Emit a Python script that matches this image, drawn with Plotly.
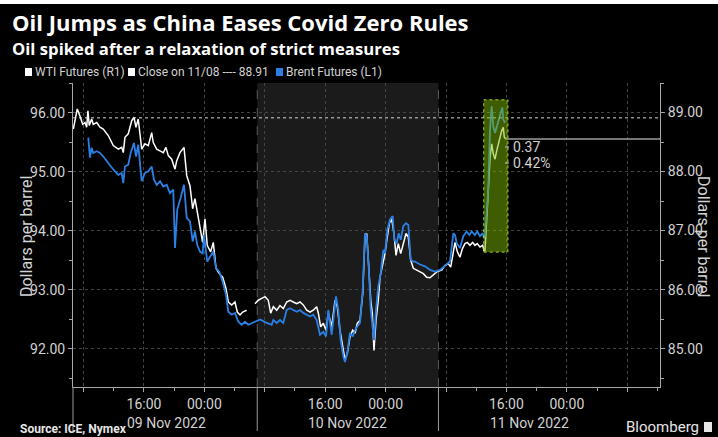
import plotly.graph_objects as go

# ---------------- data (hours since 09 Nov 2022 00:00, chart local time) ----------------
wti_hours = [6.64, 7.17, 7.52, 7.88, 8.19, 8.41, 8.58, 8.75, 9.07, 9.28, 9.74, 10.17, 10.61, 11.27,
             11.93, 12.60, 13.05, 13.26, 13.48, 13.92, 14.37, 14.67, 14.94, 15.24, 15.70, 16.13,
             16.57, 17.02, 17.23, 17.68, 18.12, 18.56, 18.91, 19.22, 19.67, 20.11, 20.33, 20.77,
             21.30, 21.66, 22.09, 22.45, 22.75, 23.06, 23.42, 23.77, 24.08, 24.38, 24.83, 25.18,
             25.54, 25.97, 26.42, 26.86, 27.17, 27.62, 28.05, 28.36, 28.72, 29.07, 29.60,
             30.10,
             30.70, 31.14, 31.59, 32.03, 32.46, 32.78, 33.13, 33.58, 34.01, 34.45, 34.90, 35.34,
             35.77, 36.22, 36.66, 37.10, 37.55, 37.99, 38.42, 38.87, 39.09, 39.40, 39.75, 40.11,
             40.41, 40.86, 41.30, 41.60, 41.96, 42.32, 42.62, 42.93, 43.28, 43.64, 43.95, 44.25,
             44.61, 44.97, 45.27, 45.50, 45.76, 46.03, 46.24, 46.46, 46.73, 47.03, 47.26, 47.62,
             47.92, 48.15, 48.49, 48.81, 49.11, 49.38, 49.68, 50.00, 50.34, 50.70, 51.01, 51.32,
             51.67, 52.12, 52.56, 53.00, 53.44, 53.88, 54.77, 55.43, 55.87, 56.31, 56.62, 56.97,
             57.19, 57.50, 57.85, 58.16, 58.51, 58.82, 59.17, 59.53, 59.83, 60.14, 60.50, 60.86,
             61.03, 61.16, 61.39, 61.60, 61.83, 62.05, 62.26, 62.49, 62.71, 62.93, 63.15, 63.37,
             63.58, 63.72, 63.90]
wti_price = [88.72, 89.06, 88.94, 88.80, 88.83, 88.75, 89.03, 88.78, 88.89, 88.80, 88.83, 88.75, 88.72, 88.61,
             88.44, 88.38, 88.41, 88.32, 88.58, 88.64, 88.86, 88.92, 88.75, 88.89, 88.38, 88.47,
             88.44, 88.66, 88.49, 88.38, 88.35, 88.32, 88.41, 88.27, 88.21, 88.04, 88.18, 88.32,
             88.41, 87.93, 87.76, 87.37, 87.54, 87.31, 87.03, 86.80, 87.20, 86.75, 86.64, 86.80,
             86.36, 86.27, 86.21, 86.02, 85.79, 85.74, 85.79, 85.62, 85.57, 85.62, 85.65,
             None,
             85.76, 85.82, 85.85, 85.88, 85.82, 85.60, 85.71, 85.65, 85.73, 85.68, 85.79, 85.82,
             85.79, 85.76, 85.79, 85.74, 85.65, 85.62, 85.65, 85.71, 85.60, 85.37, 85.43, 85.31,
             85.60, 85.37, 85.82, 85.71, 85.31, 85.03, 84.81, 84.92, 85.20, 85.31, 85.26, 85.43,
             85.48, 85.93, 86.89, 86.95, 86.38, 85.82, 85.60, 84.97, 85.48, 85.82, 86.21, 86.44,
             86.61, 86.83, 87.12, 87.20, 86.95, 86.58, 86.78, 86.61, 86.78, 86.95, 86.89, 86.50,
             86.36, 86.33, 86.30, 86.27, 86.21, 86.20, 86.30, 86.33, 86.41, 86.44, 86.38, 86.64,
             86.80, 86.64, 86.55, 86.69, 86.78, 86.80, 86.75, 86.80, 86.75, 86.78, 86.72, 86.75,
             86.66, 86.66, 87.12, 87.68, 88.24, 88.47, 88.30, 88.21, 88.35, 88.47, 88.58, 88.69,
             88.75, 88.58, 88.55]

brent_hours = [8.62, 8.85, 9.07, 9.28, 9.74, 10.17, 10.61, 11.27, 11.93, 12.60, 13.05, 13.26, 13.48,
               13.92, 14.24, 14.67, 14.94, 15.24, 15.70, 16.13, 16.57, 17.02, 17.32, 17.68, 18.12,
               18.56, 19.01, 19.44, 19.88, 20.11, 20.41, 20.86, 21.30, 21.66, 22.09, 22.45, 22.75,
               23.06, 23.42, 23.77, 23.95, 24.38, 24.83, 25.18, 25.54, 25.97, 26.42, 26.86, 27.17,
               27.62, 28.05, 28.49, 28.94, 29.38, 29.81, 30.26, 30.70, 31.40, 32.10, 32.91, 33.13,
               33.58, 34.01, 34.45, 34.90, 35.34, 35.77, 36.22, 36.66, 37.10, 37.55, 37.99, 38.42,
               38.87, 39.31, 39.75, 40.11, 40.41, 40.86, 41.43, 41.73, 42.05, 42.40, 42.62, 42.93,
               43.28, 43.64, 43.95, 44.25, 44.61, 44.97, 45.27, 45.50, 45.76, 46.03, 46.24, 46.46,
               46.73, 47.03, 47.35, 47.70, 47.92, 48.23, 48.58, 48.94, 49.15, 49.47, 49.73, 50.00,
               50.34, 50.70, 51.01, 51.32, 51.67, 51.89, 52.56, 53.22, 53.88, 54.54, 55.21, 55.87,
               56.53, 56.97, 57.19, 57.42, 57.85, 58.29, 58.74, 59.09, 59.40, 59.83, 60.14, 60.50,
               60.86, 61.03, 61.16, 61.60, 61.83, 62.05, 62.26, 62.49, 62.71, 62.93, 63.25, 63.46,
               63.58, 63.81]
brent_price = [95.58, 95.24, 95.41, 95.32, 95.35, 95.32, 95.26, 95.15, 95.04, 94.95, 94.98, 94.81, 95.09,
               95.12, 95.32, 95.49, 95.26, 95.46, 94.84, 94.98, 95.01, 95.09, 94.87, 94.78, 94.84,
               94.75, 94.78, 94.64, 94.70, 93.71, 94.36, 94.56, 94.78, 94.22, 94.16, 93.82, 93.99,
               93.76, 93.65, 93.62, 93.93, 93.48, 93.59, 93.65, 93.37, 93.31, 93.14, 92.92, 92.63,
               92.58, 92.61, 92.46, 92.41, 92.46, 92.41, 92.44, 92.46, 92.50, 92.45, 92.41, 92.49,
               92.44, 92.49, 92.44, 92.66, 92.69, 92.66, 92.63, 92.66, 92.61, 92.58, 92.55, 92.58,
               92.49, 92.24, 92.29, 92.21, 92.66, 92.24, 92.89, 92.66, 92.15, 91.87, 91.78, 91.93,
               92.27, 92.21, 92.32, 92.38, 92.44, 93.00, 93.96, 93.91, 93.40, 92.66, 92.44, 92.15,
               92.66, 93.06, 93.28, 93.68, 93.62, 94.02, 94.19, 94.25, 93.85, 93.79, 93.96, 93.85,
               94.08, 94.13, 94.10, 93.51, 93.48, 93.48, 93.43, 93.40, 93.34, 93.31, 93.34, 93.41,
               93.48, 93.96, 93.93, 93.79, 93.71, 93.91, 93.99, 93.93, 93.99, 93.93, 93.99, 93.91,
               93.96, 93.88, 93.91, 94.70, 95.72, 96.11, 95.77, 95.66, 95.77, 95.89, 96.00, 96.09,
               95.89, 95.83]

wti_close_prev = 88.91          # Close on 11/08
change_labels = ["0.37", "0.42%"]
day_starts = [7, 31, 55]        # trading-day boundaries (07:00)
day_labels = ["09 Nov 2022", "10 Nov 2022", "11 Nov 2022"]
tick_hours = [8, 16, 24, 32, 40, 48, 56, 64, 72, 80]
tick_text = ["", "16:00", "00:00", "", "16:00", "00:00", "", "16:00", "00:00", ""]
highlight_hours = [61.0, 64.2]
highlight_brent = [93.64, 96.22]
left_ticks = [92, 93, 94, 95, 96]
right_ticks = [85, 86, 87, 88, 89]

# ---------------- layout helpers ----------------
W, H = 718, 437
L, R, T, B = 73, 58, 83, 50
PW, PH = W - L - R, H - T - B
X_RANGE = [6.6, 84.34]


def pxx(p):
    return (p - L) / PW


def pxy(p):
    return (H - B - p) / PH


FONT = "Roboto"
HEAD = "Open Sans"
TXT = "#d2d2d2"
BLUE = "#2a80e4"

fig = go.Figure()

# WTI on the right axis (base y), Brent on left axis (y2, drawn on top)
fig.add_trace(go.Scatter(x=wti_hours, y=wti_price, mode="lines", yaxis="y",
                         line=dict(color="#ffffff", width=1.5), connectgaps=False,
                         name="WTI Futures (R1)", hoverinfo="skip"))
fig.add_trace(go.Scatter(x=brent_hours, y=brent_price, mode="lines", yaxis="y2",
                         line=dict(color=BLUE, width=1.8),
                         name="Brent Futures (L1)", hoverinfo="skip"))

shapes = []
# shaded middle trading day
shapes.append(dict(type="rect", xref="x", yref="paper", x0=day_starts[1], x1=day_starts[2],
                   y0=0, y1=1, fillcolor="#1b1b1b", line=dict(width=0), layer="below"))
# day separators inside plot
for d in day_starts[1:]:
    shapes.append(dict(type="line", xref="x", yref="paper", x0=d, x1=d, y0=0, y1=1,
                       line=dict(color="#5a5a5a", width=1, dash="dash"), layer="below"))
# long day-boundary ticks below the axis
for i, d in enumerate(day_starts):
    xr = "paper" if i == 0 else "x"
    xv = 0 if i == 0 else d
    shapes.append(dict(type="line", xref=xr, yref="paper", x0=xv, x1=xv, y0=pxy(431), y1=0,
                       line=dict(color="#9a9a9a", width=1)))
# previous close line (WTI axis)
shapes.append(dict(type="line", xref="paper", yref="y", x0=0, x1=1, y0=wti_close_prev,
                   y1=wti_close_prev, line=dict(color="#d8d8d8", width=1, dash="dot")))
# last value line
shapes.append(dict(type="line", xref="x", yref="y", x0=wti_hours[-1], x1=X_RANGE[1],
                   y0=wti_price[-1], y1=wti_price[-1], line=dict(color="#9c9c9c", width=1.5)))
# highlight box
shapes.append(dict(type="rect", xref="x", yref="y2", x0=highlight_hours[0], x1=highlight_hours[1],
                   y0=highlight_brent[0], y1=highlight_brent[1],
                   fillcolor="rgba(125,185,0,0.5)", line=dict(color="#a8d42a", width=1, dash="dot"),
                   layer="above"))
# small ticks before change labels
for yp in (147, 163):
    shapes.append(dict(type="line", xref="paper", yref="paper", x0=pxx(505), x1=pxx(509),
                       y0=pxy(yp), y1=pxy(yp), line=dict(color="#cccccc", width=1)))
# legend swatches
for x0, col in ((25, "#ffffff"), (128, "#ffffff"), (276, BLUE)):
    shapes.append(dict(type="rect", xref="paper", yref="paper", x0=pxx(x0), x1=pxx(x0 + 7),
                       y0=pxy(76), y1=pxy(68), fillcolor=col, line=dict(width=0)))
# Bloomberg icon
shapes.append(dict(type="rect", xref="paper", yref="paper", x0=pxx(704), x1=pxx(712),
                   y0=pxy(432), y1=pxy(422), fillcolor="#e6e6e6", line=dict(width=0)))
# thin white frame at top
shapes.append(dict(type="rect", xref="paper", yref="paper", x0=pxx(0), x1=pxx(W),
                   y0=pxy(4), y1=pxy(0), fillcolor="#ffffff", line=dict(width=0)))

ann = []


def text(x, y, s, size, color=TXT, bold=False, xanchor="left", angle=0, family=FONT):
    ann.append(dict(xref="paper", yref="paper", x=pxx(x), y=pxy(y), text=s, showarrow=False,
                    xanchor=xanchor, yanchor="middle", textangle=angle,
                    font=dict(family=family, size=size, color=color,
                              weight="bold" if bold else "normal")))


text(10, 21.5, "Oil Jumps as China Eases Covid Zero Rules", 22, "#ffffff", True, family=HEAD)
text(10, 49, "Oil spiked after a relaxation of strict measures", 16.7, "#ffffff", True, family=HEAD)
text(33, 72, "WTI Futures (R1)", 12)
text(136, 72, "Close on 11/08 ---- %.2f" % wti_close_prev, 12)
text(284, 72, "Brent Futures (L1)", 12)
text(26, 236, "Dollars per barrel", 16, angle=-90, xanchor="center")
text(704, 236, "Dollars per barrel", 16, angle=90, xanchor="center")
text(511, 147, change_labels[0], 14)
text(511, 163, change_labels[1], 14)
text(18, 429, "Source: ICE, Nymex", 12, "#e6e6e6", True)
text(701, 427, "Bloomberg", 15, "#e6e6e6", False, xanchor="right")
for d, lab in zip(day_starts, day_labels):
    ann.append(dict(xref="x", yref="paper", x=d + 12, y=pxy(423), text=lab, showarrow=False,
                    xanchor="center", yanchor="middle",
                    font=dict(family=FONT, size=14, color=TXT)))

axis_common = dict(showline=True, linecolor="#a8a8a8", linewidth=1, ticks="outside",
                   tickcolor="#a8a8a8", ticklen=4, zeroline=False,
                   tickfont=dict(family=FONT, size=14, color=TXT), fixedrange=True)

fig.update_layout(
    width=W, height=H, margin=dict(l=L, r=R, t=T, b=B),
    paper_bgcolor="#000000", plot_bgcolor="#000000", showlegend=False,
    xaxis=dict(range=X_RANGE, tickmode="array", tickvals=tick_hours, ticktext=tick_text,
               showgrid=True, gridcolor="#444444", griddash="dot", gridwidth=1,
               minor=dict(ticks="outside", ticklen=3, tickcolor="#a8a8a8", dtick=4, tick0=0),
               **axis_common),
    yaxis=dict(range=[84.35, 89.50], side="right", tickvals=right_ticks, tickformat=".2f",
               showgrid=True, gridcolor="#444444", griddash="dot", gridwidth=1,
               minor=dict(ticks="outside", ticklen=3, tickcolor="#a8a8a8", dtick=0.5, tick0=0),
               **axis_common),
    yaxis2=dict(range=[91.355, 96.505], side="left", overlaying="y", tickvals=left_ticks,
                tickformat=".2f", showgrid=False,
                minor=dict(ticks="outside", ticklen=3, tickcolor="#a8a8a8", dtick=0.5, tick0=0),
                **axis_common),
    shapes=shapes, annotations=ann,
)

fig.write_html("out.html")
